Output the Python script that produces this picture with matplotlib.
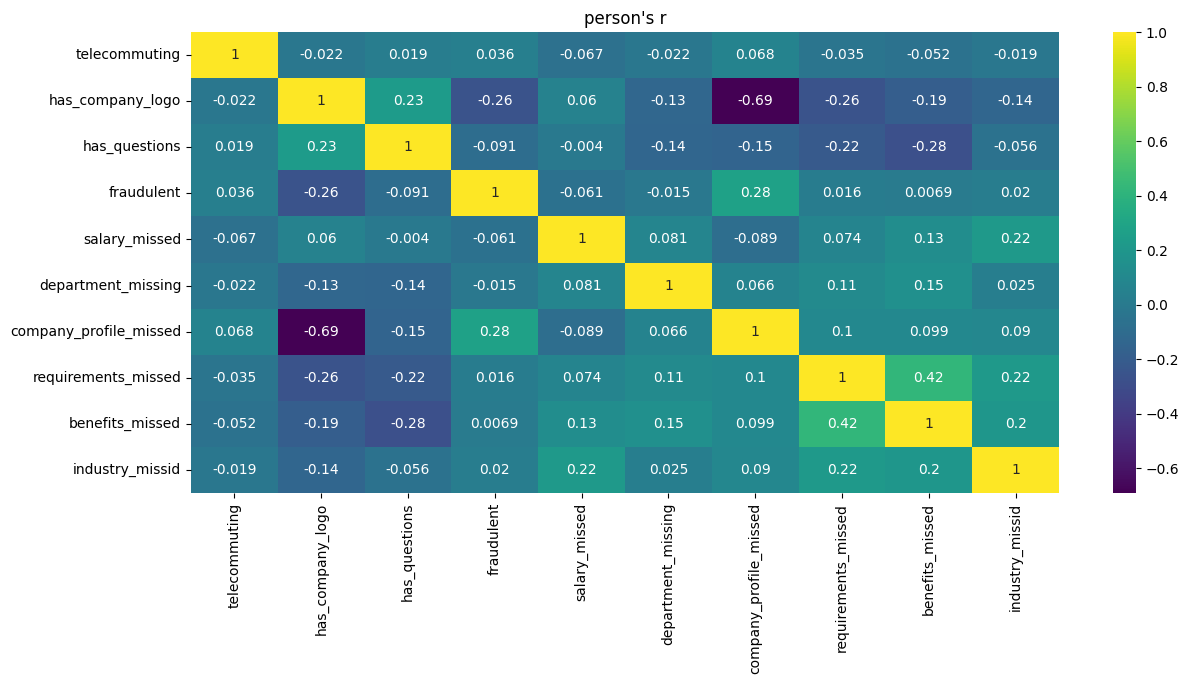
import numpy as np
import pandas as pd
import matplotlib
matplotlib.use('Agg')
import matplotlib.pyplot as plt
import seaborn as sns

columns = ['telecommuting', 'has_company_logo', 'has_questions', 'fraudulent',
           'salary_missed', 'department_missing', 'company_profile_missed',
           'requirements_missed', 'benefits_missed', 'industry_missid']

telecommuting = [1, -0.022, 0.019, 0.036, -0.067, -0.022, 0.068, -0.035, -0.052, -0.019]
has_company_logo = [-0.022, 1, 0.23, -0.26, 0.06, -0.13, -0.69, -0.26, -0.19, -0.14]
has_questions = [0.019, 0.23, 1, -0.091, -0.004, -0.14, -0.15, -0.22, -0.28, -0.056]
fraudulent = [0.036, -0.26, -0.091, 1, -0.061, -0.015, 0.28, 0.016, 0.0069, 0.02]
salary_missed = [-0.067, 0.06, -0.004, -0.061, 1, 0.081, -0.089, 0.074, 0.13, 0.22]
department_missing = [-0.022, -0.13, -0.14, -0.015, 0.081, 1, 0.066, 0.11, 0.15, 0.025]
company_profile_missed = [0.068, -0.69, -0.15, 0.28, -0.089, 0.066, 1, 0.1, 0.099, 0.09]
requirements_missed = [-0.035, -0.26, -0.22, 0.016, 0.074, 0.11, 0.1, 1, 0.42, 0.22]
benefits_missed = [-0.052, -0.19, -0.28, 0.0069, 0.13, 0.15, 0.099, 0.42, 1, 0.2]
industry_missid = [-0.019, -0.14, -0.056, 0.02, 0.22, 0.025, 0.09, 0.22, 0.2, 1]

rows = [telecommuting, has_company_logo, has_questions, fraudulent, salary_missed,
        department_missing, company_profile_missed, requirements_missed,
        benefits_missed, industry_missid]
corr = pd.DataFrame(rows, index=columns, columns=columns)

fig = plt.figure(figsize=(11.89, 6.85), dpi=100)
ax = fig.add_axes([191 / 1189, 1 - 493 / 685, 868 / 1189, 461 / 685])
cax = fig.add_axes([1113 / 1189, 1 - 493 / 685, 23 / 1189, 461 / 685])

sns.heatmap(corr, annot=True, cmap='viridis', ax=ax, cbar_ax=cax)
ax.set_title("person's r")

fig.savefig('out.png', dpi=100)
